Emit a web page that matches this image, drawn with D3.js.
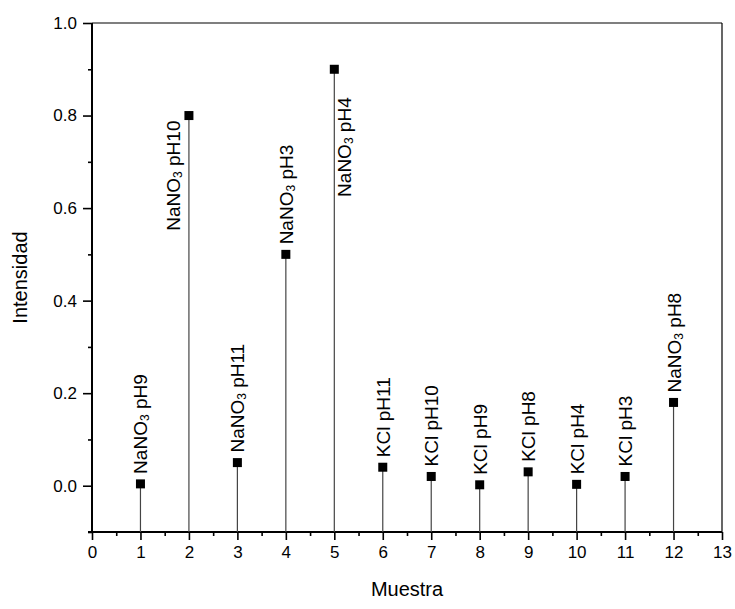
<!DOCTYPE html>
<html>
<head>
<meta charset="utf-8">
<script src="https://cdn.jsdelivr.net/npm/d3@7"></script>
<style>
  html, body { margin: 0; padding: 0; background: #fff; }
  svg { display: block; font-family: Arial, "Liberation Sans", sans-serif; }
</style>
</head>
<body>
<svg id="chart" width="735" height="609"></svg>
<script>
// Sample numbers (Muestra) and measured intensity
const muestras = [1, 2, 3, 4, 5, 6, 7, 8, 9, 10, 11, 12];
const intensidad = [0.004, 0.80, 0.05, 0.50, 0.90, 0.04, 0.02, 0.002, 0.03, 0.003, 0.02, 0.18];

// Label for each sample: salt, subscript (if any), pH
const sales = ["NaNO", "NaNO", "NaNO", "NaNO", "NaNO", "KCl", "KCl", "KCl", "KCl", "KCl", "KCl", "NaNO"];
const subindices = ["3", "3", "3", "3", "3", "", "", "", "", "", "", "3"];
const phs = ["pH9", "pH10", "pH11", "pH3", "pH4", "pH11", "pH10", "pH9", "pH8", "pH4", "pH3", "pH8"];
// Where each label sits relative to its marker
const ubicacion = ["above", "left", "above", "above", "right", "above", "above", "above", "above", "above", "above", "above"];

// Axis ticks
const xTicks = d3.range(0, 14);
const xMinor = d3.range(0.5, 13, 1);
const yTicks = [0.0, 0.2, 0.4, 0.6, 0.8, 1.0];
const yMinor = [-0.1, 0.1, 0.3, 0.5, 0.7, 0.9];

const svg = d3.select("#chart");
const mLeft = 92, mRight = 722, mTop = 23, mBottom = 532;

const x = d3.scaleLinear().domain([0, 13]).range([mLeft, mRight]);
const y = d3.scaleLinear().domain([-0.1, 1.0]).range([mBottom, mTop]);

// Frame: thin top and right edges
svg.append("line").attr("x1", mLeft).attr("x2", mRight).attr("y1", mTop).attr("y2", mTop)
  .attr("stroke", "#000").attr("stroke-width", 1.2);
svg.append("line").attr("x1", mRight).attr("x2", mRight).attr("y1", mTop).attr("y2", mBottom)
  .attr("stroke", "#000").attr("stroke-width", 1.2);

// Bottom axis
const xAxis = svg.append("g").attr("transform", `translate(0,${mBottom})`)
  .call(d3.axisBottom(x).tickValues(xTicks).tickFormat(d3.format("d")).tickSize(8).tickPadding(6));
const xMinorAxis = svg.append("g").attr("transform", `translate(0,${mBottom})`)
  .call(d3.axisBottom(x).tickValues(xMinor).tickFormat("").tickSize(4));

// Left axis
const yAxis = svg.append("g").attr("transform", `translate(${mLeft},0)`)
  .call(d3.axisLeft(y).tickValues(yTicks).tickFormat(d3.format(".1f")).tickSize(9).tickPadding(6));
const yMinorAxis = svg.append("g").attr("transform", `translate(${mLeft},0)`)
  .call(d3.axisLeft(y).tickValues(yMinor).tickFormat("").tickSize(4));

[xAxis, yAxis, xMinorAxis, yMinorAxis].forEach(g => {
  g.select(".domain").remove();
  g.selectAll(".tick line").attr("stroke", "#000").attr("stroke-width", 1.6);
  g.selectAll(".tick text").attr("fill", "#000").attr("font-size", 17)
    .attr("font-family", "Arial, 'Liberation Sans', sans-serif");
});

// Axis lines drawn as plain lines so the corner overlaps cleanly
svg.append("line").attr("x1", mLeft - 4).attr("x2", mRight).attr("y1", mBottom).attr("y2", mBottom)
  .attr("stroke", "#000").attr("stroke-width", 2);
svg.append("line").attr("x1", mLeft).attr("x2", mLeft).attr("y1", mTop).attr("y2", mBottom + 1)
  .attr("stroke", "#000").attr("stroke-width", 2);

// Axis titles
svg.append("text").attr("x", (mLeft + mRight) / 2).attr("y", 596)
  .attr("text-anchor", "middle").attr("font-size", 20).text("Muestra");
svg.append("text").attr("transform", `translate(27,${(mTop + mBottom) / 2}) rotate(-90)`)
  .attr("text-anchor", "middle").attr("font-size", 20).text("Intensidad");

const datos = muestras.map((m, i) => ({
  m, v: intensidad[i], sal: sales[i], sub: subindices[i], ph: phs[i], pos: ubicacion[i]
}));

// Drop lines from each point to the bottom axis
svg.append("g").selectAll("line").data(datos).join("line")
  .attr("x1", d => x(d.m)).attr("x2", d => x(d.m))
  .attr("y1", d => y(d.v)).attr("y2", mBottom)
  .attr("stroke", "#444").attr("stroke-width", 1.2);

// Square markers
const s = 9;
svg.append("g").selectAll("rect").data(datos).join("rect")
  .attr("x", d => x(d.m) - s / 2).attr("y", d => y(d.v) - s / 2)
  .attr("width", s).attr("height", s).attr("fill", "#000");

// Rotated sample labels
const labels = svg.append("g").selectAll("text").data(datos).join("text")
  .attr("font-size", 19)
  .attr("dominant-baseline", "central")
  .attr("text-anchor", d => d.pos === "above" ? "start" : "end")
  .attr("transform", d => {
    const px = x(d.m), py = y(d.v);
    if (d.pos === "left") return `translate(${px - 16},${py + 5}) rotate(-90)`;
    if (d.pos === "right") return `translate(${px + 10},${py + 28}) rotate(-90)`;
    return `translate(${px},${py - 10}) rotate(-90)`;
  });
labels.append("tspan").text(d => d.sal);
labels.filter(d => d.sub !== "").append("tspan")
  .attr("font-size", 12).attr("dy", 5).text(d => d.sub);
labels.append("tspan")
  .attr("dy", d => d.sub !== "" ? -5 : 0)
  .text(d => " " + d.ph);
</script>
</body>
</html>
